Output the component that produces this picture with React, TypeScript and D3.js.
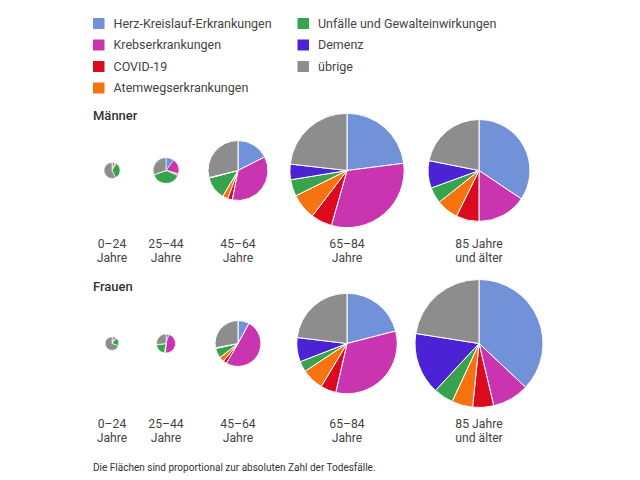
import React from "react";
import * as d3 from "d3";

const causes = [
  "Herz-Kreislauf-Erkrankungen",
  "Krebserkrankungen",
  "COVID-19",
  "Atemwegserkrankungen",
  "Unfälle und Gewalteinwirkungen",
  "Demenz",
  "übrige",
];
const colors = ["#7191d9", "#c935b0", "#dc0a1e", "#f7730f", "#37a34c", "#4b23d5", "#8d8d8d"];

const ageLine1 = ["0–24", "25–44", "45–64", "65–84", "85 Jahre"];
const ageLine2 = ["Jahre", "Jahre", "Jahre", "Jahre", "und älter"];

// total deaths (thousands) per age group
const totalMaenner = [4.1, 10.6, 57.6, 209, 166];
const totalFrauen = [3.0, 5.8, 33.8, 161.5, 262];

// shares (%) per cause, order as in `causes`
const sharesMaenner = [
  [1.5, 5, 0.5, 1.5, 34, 0, 57.5],
  [10, 19, 1.5, 1, 38, 0.2, 30.3],
  [17.5, 35.6, 2.5, 2.9, 12.4, 0.3, 28.8],
  [23, 31.4, 6, 7.3, 4.7, 4.4, 23.2],
  [34.4, 15.6, 7.3, 7, 5.1, 8.7, 21.9],
];
const sharesFrauen = [
  [3, 6, 0.5, 1, 20, 0, 69.5],
  [5, 46, 1, 1, 20, 0.2, 26.8],
  [8, 50.5, 2.5, 3.5, 7, 0.5, 28],
  [21, 32.6, 5, 7.1, 3.4, 7.8, 23.1],
  [37, 9.3, 5.3, 5.3, 5, 15.6, 22.5],
];

const colX = [112, 166, 238, 347, 479];
const FONT = "Roboto, 'Noto Sans', sans-serif";
const TEXT = "#444";

const rScale = d3
  .scaleSqrt()
  .domain([0, d3.max([...totalMaenner, ...totalFrauen]) as number])
  .range([0, 64]);

const pie = d3.pie<number>().sort(null).value((d) => d);

function Row({ title, titleY, cy, labelY, totals, shares }: any) {
  return (
    <g>
      <text x={93} y={titleY} fontSize={13} fontWeight={500} fill="#333" fontFamily={FONT}>
        {title}
      </text>
      {totals.map((t: number, i: number) => {
        const r = rScale(t);
        const arc = d3.arc<d3.PieArcDatum<number>>().innerRadius(0).outerRadius(r);
        const arcs = pie(shares[i]);
        return (
          <g key={i}>
            <g transform={`translate(${colX[i]},${cy})`}>
              {arcs.map((a, j) =>
                a.value > 0 ? (
                  <path key={j} d={arc(a) as string} fill={colors[j]} stroke="#fff" strokeWidth={r < 15 ? 0.6 : 1} />
                ) : null
              )}
            </g>
            <text x={colX[i]} y={labelY} textAnchor="middle" fontSize={12.2} fill={TEXT} fontFamily={FONT}>
              {ageLine1[i]}
            </text>
            <text x={colX[i]} y={labelY + 14} textAnchor="middle" fontSize={12.2} fill={TEXT} fontFamily={FONT}>
              {ageLine2[i]}
            </text>
          </g>
        );
      })}
    </g>
  );
}

export default function App() {
  const legendRowY = [18, 39.5, 61, 82.5];
  return (
    <svg width={640} height={480} style={{ position: "absolute", left: 0, top: 0, background: "#fff" }}>
      <rect width={640} height={480} fill="#fff" />
      {causes.map((c, i) => {
        const col = i < 4 ? 0 : 1;
        const row = i < 4 ? i : i - 4;
        const x = col === 0 ? 93 : 297.5;
        const y = legendRowY[row];
        return (
          <g key={c}>
            <rect x={x} y={y} width={11.5} height={11} fill={colors[i]} />
            <text x={x + 20.5} y={y + 9.5} fontSize={12.5} fill={TEXT} fontFamily={FONT}>
              {c}
            </text>
          </g>
        );
      })}
      <Row title="Männer" titleY={120} cy={170.5} labelY={248} totals={totalMaenner} shares={sharesMaenner} />
      <Row title="Frauen" titleY={290.5} cy={343.5} labelY={427.5} totals={totalFrauen} shares={sharesFrauen} />
      <text x={93} y={470.5} fontSize={10} fill="#333" fontFamily={FONT}>
        Die Flächen sind proportional zur absoluten Zahl der Todesfälle.
      </text>
    </svg>
  );
}
